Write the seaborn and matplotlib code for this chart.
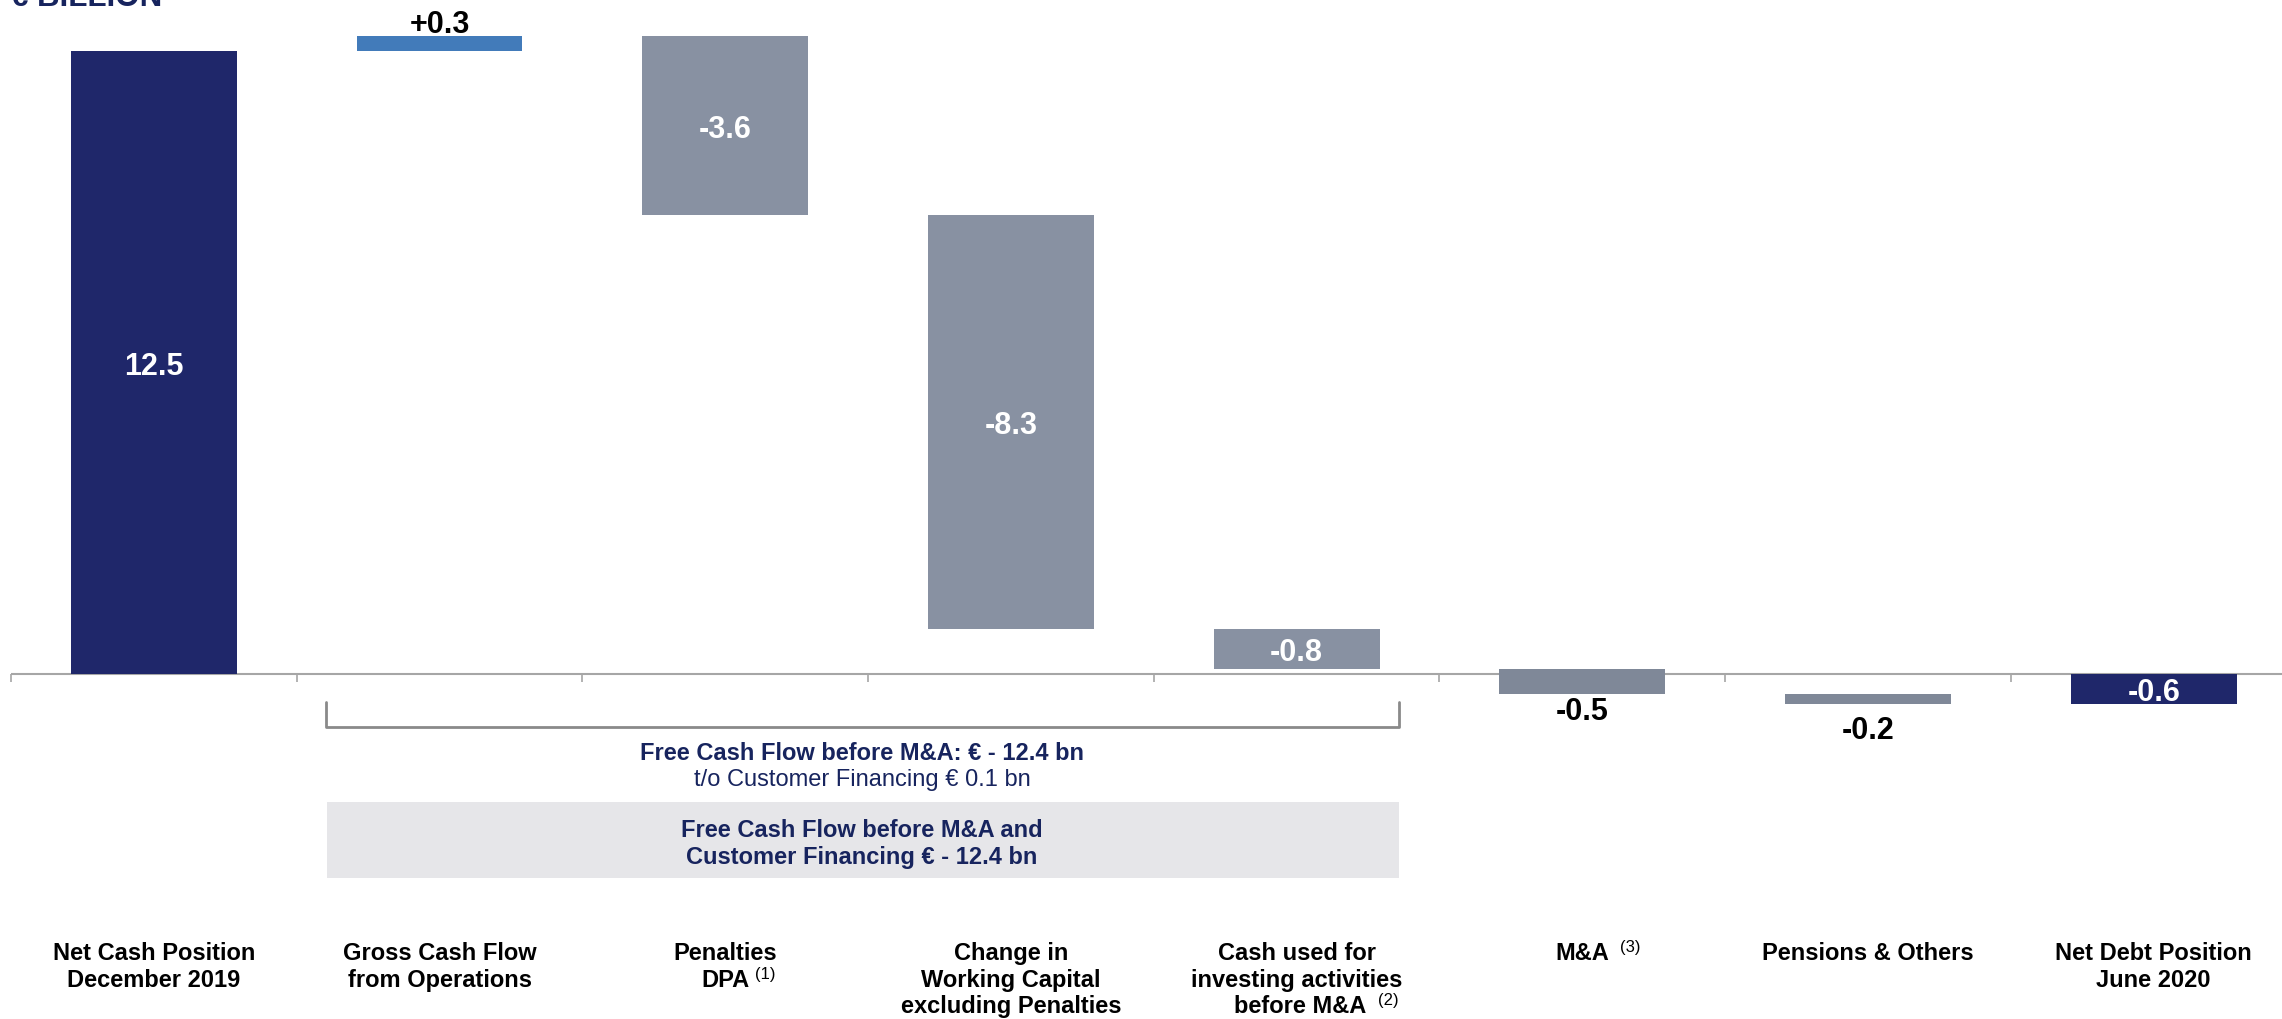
import numpy as np
import pandas as pd
import matplotlib
matplotlib.use("Agg")
import matplotlib.pyplot as plt
from matplotlib.patches import Rectangle
import seaborn as sns

# ---- data (EUR billion) ----
steps = ["net_cash_2019", "gross_cf", "penalties", "working_capital",
         "capex", "m_and_a", "pensions", "net_debt_2020"]
step_values = [12.5, 0.3, -3.6, -8.3, -0.8, -0.5, -0.2, -0.6]
value_labels = ["12.5", "+0.3", "-3.6", "-8.3", "-0.8", "-0.5", "-0.2", "-0.6"]
is_total = [True, False, False, False, False, False, False, True]
category_lines = [
    ["Net Cash Position", "December 2019"],
    ["Gross Cash Flow", "from Operations"],
    ["Penalties", "DPA"],
    ["Change in", "Working Capital", "excluding Penalties"],
    ["Cash used for", "investing activities", "before M&A"],
    ["M&A"],
    ["Pensions & Others"],
    ["Net Debt Position", "June 2020"],
]
footnotes = {(2, 1): "(1)", (4, 2): "(2)", (5, 0): "(3)"}
unit_title = "€ BILLION"
fcf_title = "Free Cash Flow before M&A: € - 12.4 bn"
fcf_sub = "t/o Customer Financing € 0.1 bn"
fcf_box_lines = ["Free Cash Flow before M&A and", "Customer Financing € - 12.4 bn"]

# ---- style ----
NAVY = "#1F276A"
BLUE = "#427BBA"
GREY = "#8891A2"
GREY_DARK = "#7F8898"
TEXT_NAVY = "#17245E"
AXIS_GREY = "#A6A6A6"

# where each value label sits: inside the bar, above it or below it
label_place = ["in", "above", "in", "in", "in", "below", "below", "in"]
below_offsets = {5: -18, 6: -24.5}

sns.set_style("white")
plt.rcParams["font.family"] = ["Liberation Sans", "DejaVu Sans"]

# ---- waterfall geometry ----
bottoms, heights, kinds = [], [], []
running = 0.0
for v, tot in zip(step_values, is_total):
    if tot:
        start, end = 0.0, v
        kinds.append("total")
    else:
        start, end = running, running + v
        kinds.append("up" if v > 0 else "down")
    running = end
    bottoms.append(min(start, end))
    heights.append(abs(end - start))

df = pd.DataFrame({"step": steps, "height": heights, "bottom": bottoms})

W, H = 2282, 1020
fig = plt.figure(figsize=(W / 100, H / 100), dpi=100)
ax = fig.add_axes([0, 0, 1, 1])

# pixel layout helpers (axes fills the whole figure)
X0_PX, CAT_PX = 11.0, 285.7
ZERO_PX, UNIT_PX = 675.0, 49.84


def xd(px):
    return -0.5 + (px - X0_PX) / CAT_PX


def yd(px):
    return (ZERO_PX - px) / UNIT_PX


sns.barplot(data=df, x="step", y="height", bottom=df["bottom"].to_numpy(),
            order=steps, width=0.58, color=GREY, errorbar=None,
            linewidth=0, ax=ax, zorder=3)

bar_colors = []
for i, k in enumerate(kinds):
    if k == "total":
        bar_colors.append(NAVY)
    elif k == "up":
        bar_colors.append(BLUE)
    else:
        bar_colors.append(GREY if i <= 4 else GREY_DARK)
for patch, c in zip(ax.patches, bar_colors):
    patch.set_facecolor(c)
    patch.set_edgecolor(c)

ax.set_xlim(xd(0), xd(W))
ax.set_ylim(yd(H), yd(0))
ax.set_axis_off()

# category axis line with boundary ticks
ax.plot([-0.5, xd(W)], [0, 0], color=AXIS_GREY, lw=1.5, zorder=1,
        solid_capstyle="butt")
ax.vlines(np.arange(-0.5, len(steps) + 0.5, 1.0), yd(ZERO_PX + 8), 0,
          color=AXIS_GREY, lw=1.2, zorder=1)

# value labels
for i, (lab, b, h, place) in enumerate(zip(value_labels, bottoms, heights,
                                           label_place)):
    if place == "above":
        y, off, col = b + h, 3, "black"
    elif place == "below":
        y, off, col = b, below_offsets[i], "black"
    else:
        y, off, col = b + h / 2, -8, "white"
    ax.annotate(lab, (i, y), xytext=(0, off), textcoords="offset points",
                ha="center", va="baseline", fontsize=22, fontweight="bold",
                color=col, zorder=5)

# category labels with footnote markers
row_baselines = [960, 987, 1013]
note_shift = {(2, 1): (0, 6), (4, 2): (3, 12), (5, 0): (0, 11)}
for i, lines in enumerate(category_lines):
    for r, line in enumerate(lines):
        dx, gap = note_shift.get((i, r), (0, 0))
        t = ax.text(i + dx / CAT_PX, yd(row_baselines[r]), line, ha="center",
                    va="baseline", fontsize=17, fontweight="bold", color="black")
        if (i, r) in footnotes:
            ax.annotate(footnotes[(i, r)], xy=(1, 1), xycoords=t,
                        xytext=(gap * 0.72, 1.5), textcoords="offset points",
                        ha="left", va="top", fontsize=12, color="black")

# free cash flow bracket and summary
bx0, bx1 = xd(326), xd(1399)
ax.plot([bx0, bx0, bx1, bx1], [yd(703), yd(728), yd(728), yd(703)],
        color="#8A8A8A", lw=2, zorder=2)
cx = xd(862)
ax.text(cx, yd(760), fcf_title, ha="center", va="baseline", fontsize=17,
        fontweight="bold", color=TEXT_NAVY)
ax.text(cx, yd(786), fcf_sub, ha="center", va="baseline", fontsize=17,
        color=TEXT_NAVY)
ax.add_patch(Rectangle((xd(327), yd(879)), xd(1399) - xd(327),
                       yd(803) - yd(879), facecolor="#E6E6E9",
                       edgecolor="none", zorder=1))
for line, base in zip(fcf_box_lines, [837, 864]):
    ax.text(cx, yd(base), line, ha="center", va="baseline", fontsize=17,
            fontweight="bold", color=TEXT_NAVY, zorder=2)

# unit title at the top edge
fig.text(11 / W, 1 - 5.5 / H, unit_title, ha="left", va="baseline",
         fontsize=22.5, fontweight="bold", color=TEXT_NAVY)

fig.savefig("out.png", dpi=100)
